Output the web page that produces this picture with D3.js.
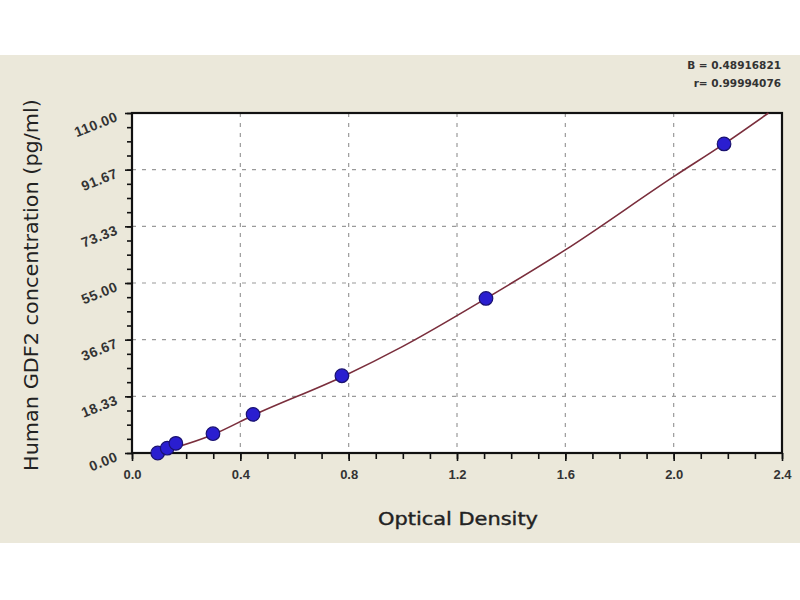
<!DOCTYPE html>
<html>
<head>
<meta charset="utf-8">
<script src="https://cdn.jsdelivr.net/npm/d3@7"></script>
<style>
  body { margin: 0; background: #fff; }
  svg { display: block; font-family: "DejaVu Sans", Verdana, sans-serif; }
</style>
</head>
<body>
<div id="chart"></div>
<script>
// standard points: optical density vs concentration
const odValues = [0.095, 0.13, 0.162, 0.299, 0.447, 0.775, 1.307, 2.186];
const concValues = [0, 1.56, 3.12, 6.25, 12.5, 25, 50, 100];

// fitted curve
const curveOd = [0.09, 0.3, 0.45, 0.775, 1.0, 1.307, 1.6, 2.0, 2.186, 2.35];
const curveConc = [0, 6.0, 12.3, 24.6, 34.5, 50.0, 65.7, 89.4, 100.0, 110.0];

const xTicks = [0.0, 0.4, 0.8, 1.2, 1.6, 2.0, 2.4];
const yTicks = [0, 18.33, 36.67, 55.0, 73.33, 91.67, 110.0];
const fitStats = ["B = 0.48916821", "r= 0.99994076"];

const W = 800, H = 600;
const plot = { left: 132, right: 782, top: 113, bottom: 453 };

const svg = d3.select("#chart").append("svg")
    .attr("width", W)
    .attr("height", H);

// beige panel
svg.append("rect")
    .attr("x", 0).attr("y", 55)
    .attr("width", W).attr("height", 488)
    .attr("fill", "#ebe8da");

const x = d3.scaleLinear().domain([0, 2.4]).range([plot.left, plot.right]);
const y = d3.scaleLinear().domain([0, 110]).range([plot.bottom, plot.top]);

svg.append("rect")
    .attr("x", plot.left).attr("y", plot.top)
    .attr("width", plot.right - plot.left).attr("height", plot.bottom - plot.top)
    .attr("fill", "#fff");

// dashed grid
const grid = svg.append("g")
    .attr("stroke", "#9a9a9a")
    .attr("stroke-width", 1.2)
    .attr("stroke-dasharray", "4,6");
grid.selectAll("line.v")
    .data(xTicks.slice(1, -1))
    .join("line")
    .attr("class", "v")
    .attr("x1", d => x(d)).attr("x2", d => x(d))
    .attr("y1", plot.top).attr("y2", plot.bottom);
grid.selectAll("line.h")
    .data(yTicks.slice(1, -1))
    .join("line")
    .attr("class", "h")
    .attr("y1", d => y(d)).attr("y2", d => y(d))
    .attr("x1", plot.left).attr("x2", plot.right);

// axes
const xMinor = d3.range(0, 24.01, 1).map(d => d / 10);
const yMinor = d3.range(0, 24.01, 1).map(d => d * 110 / 24);

const xAxis = svg.append("g")
    .attr("transform", `translate(0,${plot.bottom})`)
    .call(d3.axisBottom(x).tickValues(xMinor).tickSize(6).tickFormat(""));
const xMajor = svg.append("g")
    .attr("transform", `translate(0,${plot.bottom})`)
    .call(d3.axisBottom(x).tickValues(xTicks).tickSize(8).tickPadding(9).tickFormat(d3.format(".1f")));

const yAxis = svg.append("g")
    .attr("transform", `translate(${plot.left},0)`)
    .call(d3.axisLeft(y).tickValues(yMinor).tickSize(5).tickFormat(""));
const yMajor = svg.append("g")
    .attr("transform", `translate(${plot.left},0)`)
    .call(d3.axisLeft(y).tickValues(yTicks).tickSize(7).tickPadding(8).tickFormat(d3.format(".2f")));

[xAxis, xMajor, yAxis, yMajor].forEach(g => {
    g.select(".domain").remove();
    g.selectAll(".tick line").attr("stroke", "#111").attr("stroke-width", 1.6);
});
xMajor.selectAll("text")
    .attr("font-size", 13).attr("font-weight", "bold").attr("fill", "#333");
yMajor.selectAll("text")
    .attr("font-size", 14).attr("font-weight", "bold").attr("fill", "#333")
    .attr("letter-spacing", 0.5)
    .attr("transform", "rotate(-22)")
    .attr("dy", "0.1em");

// frame
svg.append("rect")
    .attr("x", plot.left).attr("y", plot.top)
    .attr("width", plot.right - plot.left).attr("height", plot.bottom - plot.top)
    .attr("fill", "none")
    .attr("stroke", "#111")
    .attr("stroke-width", 2.2);

// fitted curve
const line = d3.line()
    .x((d, i) => x(curveOd[i]))
    .y(d => y(d))
    .curve(d3.curveMonotoneX);
svg.append("path")
    .datum(curveConc)
    .attr("d", line)
    .attr("fill", "none")
    .attr("stroke", "#7a2e3c")
    .attr("stroke-width", 1.6);

// points
svg.append("g")
    .selectAll("circle")
    .data(concValues)
    .join("circle")
    .attr("cx", (d, i) => x(odValues[i]))
    .attr("cy", d => y(d))
    .attr("r", 6.8)
    .attr("fill", "#2a1ed0")
    .attr("stroke", "#1a1270")
    .attr("stroke-width", 1.2);

// titles
svg.append("text")
    .attr("x", 458).attr("y", 525)
    .attr("text-anchor", "middle")
    .attr("font-size", 18)
    .attr("textLength", 160)
    .attr("lengthAdjust", "spacingAndGlyphs")
    .attr("fill", "#222")
    .attr("stroke", "#222")
    .attr("stroke-width", 0.4)
    .text("Optical Density");

svg.append("text")
    .attr("transform", "translate(38,285) rotate(-90)")
    .attr("text-anchor", "middle")
    .attr("font-size", 19)
    .attr("textLength", 372)
    .attr("lengthAdjust", "spacingAndGlyphs")
    .attr("fill", "#222")
    .text("Human GDF2 concentration (pg/ml)");

svg.append("g")
    .selectAll("text")
    .data(fitStats)
    .join("text")
    .attr("x", 781)
    .attr("y", (d, i) => 69 + i * 18)
    .attr("text-anchor", "end")
    .attr("font-size", 10.5)
    .attr("font-weight", "bold")
    .attr("fill", "#333")
    .text(d => d);
</script>
</body>
</html>
